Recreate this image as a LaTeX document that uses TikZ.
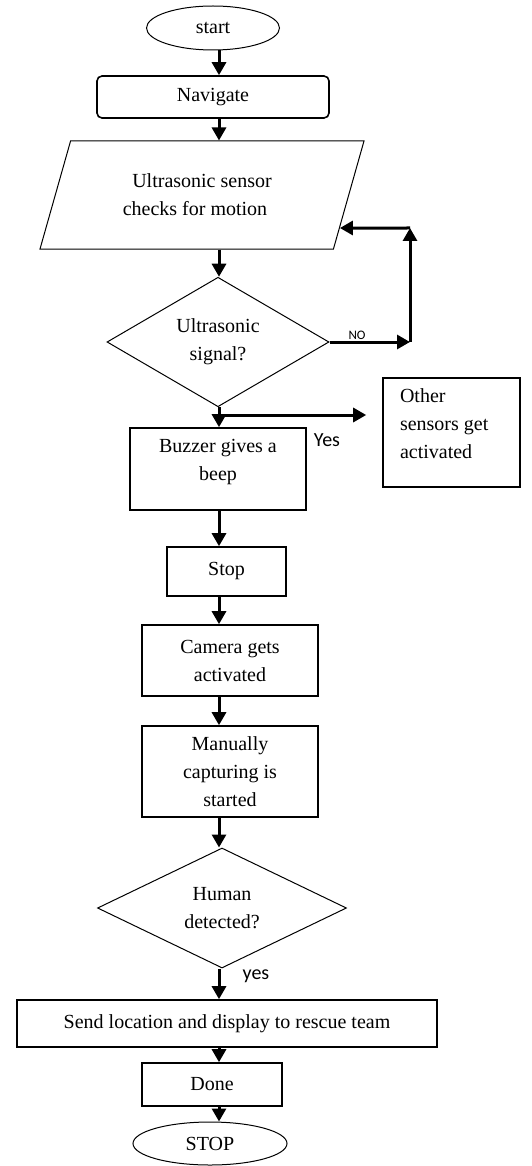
\documentclass[tikz,border=0pt]{standalone}
\usepackage{fontspec}
\setmainfont{Liberation Serif}
\newfontfamily\labelfont{Carlito}
\usetikzlibrary{arrows.meta, shapes.geometric, calc}
\tikzset{
  term/.style={draw, ellipse, line width=1pt, inner sep=0pt, align=center},
  proc/.style={draw, line width=1.6pt, inner sep=0pt, align=center},
  io/.style={draw, trapezium, trapezium left angle=54, trapezium right angle=126,
             trapezium stretches body, line width=1pt, inner sep=0pt, align=center,
             minimum width=324pt, minimum height=108pt},
  dec/.style={draw, diamond, line width=1pt, inner sep=0pt, align=center},
  flow/.style={-{Triangle[length=13pt,width=14pt]}, line width=3pt},
  lbl/.style={font=\labelfont\fontsize{20}{24}\selectfont},
}
\begin{document}
\begin{tikzpicture}[x=1pt, y=-1pt, font=\fontsize{20}{28}\selectfont]
  \useasboundingbox (0,0) rectangle (532,1166);
  \node (start) [term, minimum width=133pt, minimum height=44pt] at (213,28) {start};
  \node (nav) [proc, rounded corners=5pt, minimum width=232pt, minimum height=42pt] at (213,97) {Navigate};
  \node (para) [io] at (202,195) {Ultrasonic sensor\\checks for motion\hspace*{14pt}};
  \node (dec1) [dec, minimum width=222pt, minimum height=114pt] at (218,342) {Ultrasonic\\signal?};
  \node (buzz) [proc, minimum width=176pt, minimum height=82pt] at (218,469)
    {\parbox[c][80pt][t]{176pt}{\centering\vspace*{10pt}Buzzer gives a\\beep}};
  \node (other) [proc, inner xsep=17pt, inner ysep=4.5pt] at (451.5,432.5)
    {\parbox[c][100pt][t]{103pt}{\raggedright\vspace*{6pt}Other\\sensors get\\activated}};
  \node (halt) [proc, minimum width=119pt, minimum height=49pt] at (226.5,571.5) {Stop};
  \node (cam) [proc, minimum width=176pt, minimum height=71pt] at (230,660.5) {Camera gets\\activated};
  \node (capt) [proc, minimum width=176pt, minimum height=91pt] at (230,771.5) {Manually\\capturing is\\started};
  \node (dec2) [dec, minimum width=249pt, minimum height=120pt] at (222,908) {Human\\detected?};
  \node (send) [proc, minimum width=420pt, minimum height=47pt] at (227,1023.5) {Send location and display to rescue team};
  \node (done) [proc, minimum width=140pt, minimum height=43pt] at (212,1084.5) {Done};
  \node (stop) [term, minimum width=154pt, minimum height=43pt] at (210,1143.5) {STOP};

  \coordinate (spine) at (219,0);
  \coordinate (fork) at (219,415);
  \coordinate (loopb) at (410,228);
  \coordinate (loopd) at (loopb -| para.west);

  \draw[flow] (spine |- start.south) -- (spine |- nav.north);
  \draw[flow] (spine |- nav.south) -- (spine |- para.north);
  \draw[flow] (spine |- para.south) -- (spine |- dec1.north);
  \draw[flow] (spine |- dec1.south) -- (spine |- buzz.north);
  \draw[flow, shorten >=16pt] (fork) -- (fork -| other.west);
  \draw[flow] (spine |- buzz.south) -- (spine |- halt.north);
  \draw[flow] (spine |- halt.south) -- (spine |- cam.north);
  \draw[flow] (spine |- cam.south) -- (spine |- capt.north);
  \draw[flow] (spine |- capt.south) -- (spine |- dec2.north);
  \draw[flow] (spine |- dec2.south) -- (spine |- send.north);
  \draw[flow] (spine |- send.south) -- (spine |- done.north);
  \draw[flow] (spine |- done.south) -- (spine |- stop.north);

  \draw[flow] (dec1.east) -- (dec1.east -| loopb);
  \draw[flow] (dec1.east -| loopb) -- (loopb);
  \draw[flow] (loopb) -- (intersection of loopb--loopd and para.bottom right corner--para.top right corner);

  \node (nolbl) [lbl, font=\labelfont\fontsize{13}{15}\selectfont] at (357,335) {NO};
  \node (yeslbl) [lbl] at (327,440) {Yes};
  \node (yeslbl2) [lbl] at (256,976) {yes};
\end{tikzpicture}
\end{document}
